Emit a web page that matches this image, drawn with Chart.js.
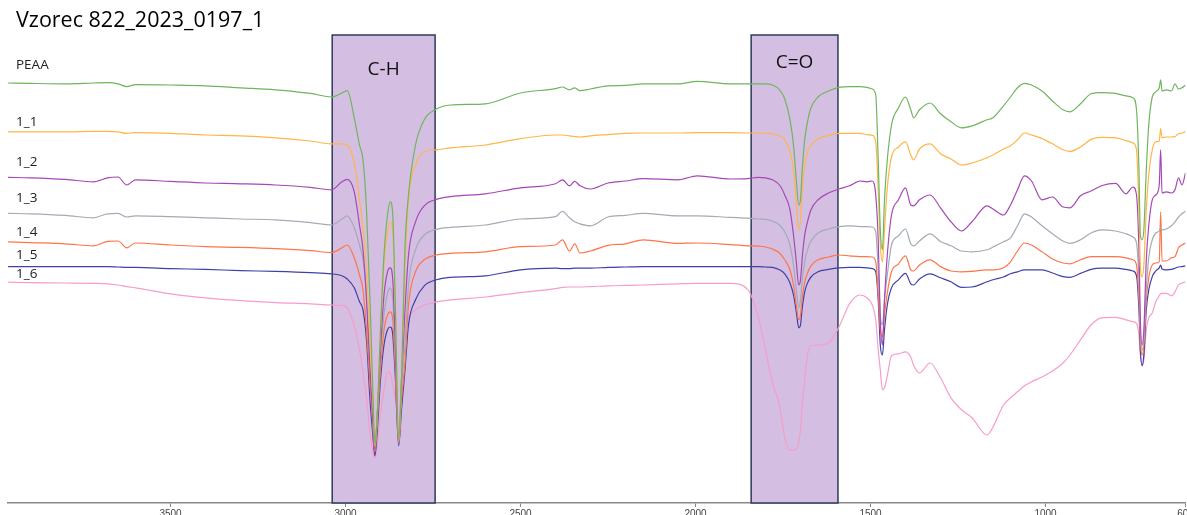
<!DOCTYPE html>
<html>
<head>
<meta charset="utf-8">
<title>Vzorec 822_2023_0197_1</title>
<script src="https://cdn.jsdelivr.net/npm/chart.js@4.4.0/dist/chart.umd.min.js"></script>
<style>
  html, body { margin: 0; padding: 0; background: #fff; }
  #wrap { width: 1187px; height: 515px; }
</style>
</head>
<body>
<div id="wrap"><canvas id="ftir"></canvas></div>
<script>
// wavenumbers (cm-1), shared by all spectra
const wavenumbers = [3964,3900,3800,3720,3680,3650,3625,3600,3500,3400,
  3300,3200,3100,3040,3010,2995,2975,2960,2950,2940,
  2930,2922,2916,2910,2900,2890,2880,2872,2865,2858,
  2848,2840,2830,2820,2800,2775,2740,2700,2600,2500,
  2400,2380,2360,2345,2330,2300,2250,2200,2150,2050,
  1995,1900,1850,1820,1800,1780,1760,1745,1730,1720,
  1712,1705,1700,1695,1688,1680,1670,1650,1620,1590,
  1560,1530,1510,1495,1485,1478,1472,1466,1460,1452,
  1440,1420,1400,1385,1377,1360,1330,1300,1270,1240,
  1210,1167,1150,1120,1100,1080,1060,1040,1010,980,
  950,930,900,870,840,800,770,750,740,733,
  729,724,719,712,705,695,685,675,671,667,
  655,640,630,620,610,600];

// spectra, stacked with offsets (arb. units)
const peaa = [105,104.9,104.8,105,105.1,104.8,104.1,104.6,104.5,104.3,
  103.8,103.3,102.4,101.5,102.5,103.1,96.3,89.5,85.8,73.3,
  50.8,28.3,14.5,20.8,43.3,62,72,75.3,72,50.8,
  15.8,30.8,64,77,89.5,95.8,98.5,99.5,99.8,102.5,
  103.6,104,103.3,103.8,103.1,103.5,104.3,104.4,104.8,104.8,
  105.4,104.8,104.8,104.8,104.8,104.5,103.3,101,95.8,89.5,
  80.8,74.5,75.8,83.3,90.8,95.3,98.8,101.5,103,103.9,
  104.1,104.1,103.9,103.5,102,85.8,68.3,63.3,75.8,85.8,
  94.5,98.8,101.5,98.3,96.3,98.3,100,97.3,95.3,93.8,
  94.3,95.8,96.3,99.3,101.5,103.8,104.9,104.5,103,100.5,
  98.3,97.8,99.8,102.3,102.6,102.4,101.8,101.3,98.3,83.3,
  67,65.8,68.3,83.3,94.5,101.5,102.8,103.8,105.8,103,
  103.3,103,104.8,103.5,103.8,104.5];

const s1_1 = [92.8,92.8,92.8,92.9,92.9,92.8,92.4,92.6,92.4,92,
  91.8,91.3,90.5,89.8,89.8,89.5,85,75.8,68.3,58.3,
  40.8,25.8,14,20.8,43.3,59.5,67.8,70.3,67.8,50.8,
  15.3,30.8,59.5,75.8,84.5,87.8,88.3,88.8,89.5,91.1,
  92,92,91.8,91.6,91.5,91.8,92.1,92.4,92.5,92.5,
  92.6,92.6,92.5,92.5,92.4,92.3,91.8,90.8,87.8,83.3,
  74.5,68.3,70.8,78.3,84.5,87.8,89.5,91,91.9,92.4,
  92.4,92.4,92.1,91.9,90.3,78.3,64.5,60.3,68.3,78.8,
  86.5,89,90.3,87,85.8,88.5,89.8,87.3,86,84.5,
  85,86.3,87,88.5,89.3,90.8,92.5,92,91.1,89.8,
  88.3,87.9,89,90.9,91.4,91.3,90.6,90,88.3,73.3,
  59.5,56.5,59.5,73.3,82,88.3,90.3,90.5,93.6,91.3,
  91.5,91.5,91.6,92.3,92.5,92.9];

const s1_2 = [81.4,81.3,80.9,80.3,81.3,81.5,79.5,80.8,80.4,80,
  79.8,79.5,78.9,78.3,80.3,80.9,77.8,69.5,63.3,50.8,
  33.3,20.8,13.3,20.8,38.3,52,57.8,58.8,55.8,40.8,
  15,30.8,48.3,62,70.3,74.3,75.9,76.6,77.3,78.8,
  79.8,80.8,79.3,80.4,79.3,78.5,80,80.5,81.1,80.8,
  81.8,81,81.1,81.4,81.3,80.8,79.5,77,73.3,67,
  60.3,54.5,55.8,61.3,67,70.3,73.3,75.8,77.5,78.5,
  79.3,80.5,80.3,80.5,77,65.8,45.8,39.5,50.8,62,
  72,75.8,78.8,74.5,74.3,75.8,77,73.8,70.3,68,
  70.3,74.3,73.5,72,74.5,78.3,81.8,80.5,75.8,76.5,
  74,73.8,76.8,78,79.3,79.9,77.3,79,77,63.3,
  45.8,39.5,43.3,60.8,69.3,75.8,77,79.5,88.3,77.5,
  77.8,77.5,78.3,81.3,79.5,82.5];

const s1_3 = [72.4,72.3,71.9,71.3,72.3,72.4,71.5,71.8,71.6,71.3,
  71,70.8,70.1,69.5,71,71.8,68.8,64.5,60.8,52,
  34.5,20.8,13.3,20.8,37,47,52.5,53.8,50.8,38.3,
  15,28.3,39.5,54.5,63.3,67,68.4,68.9,69.5,71,
  71.6,72.9,71.3,70.3,69.8,69.3,71.5,71.9,72.4,71.8,
  71.8,71.4,71.2,71,70.9,70.5,69.5,67.8,64.5,59.5,
  53.3,48.8,50.8,55.8,60.3,63.3,65.5,67.5,68.5,69.1,
  69.3,69.1,69.1,69,67.8,58.3,47,44.5,50.8,57,
  64.5,66.8,68.5,64.8,64.3,65.5,67.3,65.4,64.3,63,
  62.8,63.3,64,65.3,66.3,69.3,72.3,71.5,69.3,67.3,
  65.5,64.9,65.8,67.5,68.3,68,67.3,66.5,65,55.8,
  43.3,38.3,40.8,53.3,61.3,65.8,67.5,68,68.8,68.3,
  68.5,69.3,70.3,71.5,72.3,73];

const s1_4 = [65.3,65.1,64.8,64.3,65.4,65.5,63.8,65,64.5,64.1,
  63.9,63.6,63.1,62.6,63.8,64.5,61.3,57,53.3,43.3,
  29.5,19.5,12.8,19.5,33.3,43.3,47,47.8,45.8,34.5,
  15,25.8,35,49.5,57.8,60.8,62,62.4,62.8,64.1,
  64.5,65.8,63,64.8,62.5,63,64.4,64.8,65.8,64.9,
  65,64.6,64.3,64.2,64,63.5,62.5,60.8,58.3,54.5,
  49.5,45.8,47,51.3,55.3,57.5,59.3,60.8,61.5,62,
  61.8,61.6,61.6,61.5,60.3,52,43.3,41.5,47,52.5,
  57.8,59.8,61.8,58.3,58,59.5,60.8,59.1,58,57.8,
  57.9,58.3,58.3,58.8,60.3,63,65,64.5,62.8,61,
  60,59.8,60.8,61.6,61.6,61.6,61.3,60.8,59.5,50.8,
  40.8,37,39.5,50.8,56.3,59.5,60,60.3,72.8,60.5,
  60.5,61.3,61.6,63.8,64.5,65];

const s1_5 = [59.1,59.1,59.1,59.1,59.1,59,58.9,58.9,58.6,58.4,
  58.1,57.9,57.6,57.3,56.8,56,53.8,50.3,48.3,40.8,
  25.8,17,11.8,17,30.8,39.5,43.3,44,42,32,
  14.3,23.3,33.3,44.5,50.8,54.3,55.8,56.4,56.8,58.3,
  58.7,58.6,58.6,58.7,58.7,58.7,58.9,59,59.1,59.1,
  59.1,59.1,59.1,59.1,59,58.9,58.3,57.3,55,52,
  47.8,43.8,44.5,48.8,52.8,55,56.5,57.8,58.4,58.8,
  58.9,58.9,58.8,58.6,57.8,50.8,39.5,37,43.3,49.5,
  53.8,55.8,57.4,54.8,54.5,56,57.3,56.3,55.3,53.9,
  54,55.3,55.8,56.5,57.3,57.8,58.3,58.3,58.3,57.5,
  56.6,56.4,57.4,58.4,58.7,58.7,58.4,58,56.8,48.3,
  38.3,34.3,37,48.3,53.3,56.6,58,58.8,59.5,58.5,
  58.3,58.4,58.7,59,59.1,59.3];

const s1_6 = [55.2,55.1,55,54.9,54.8,54.5,54.1,53.8,52.3,51.3,
  50.6,50.1,49.8,49.5,49.4,48.8,44.3,38.3,32.8,26.3,
  17.5,12.8,11.3,14,22,28.3,32.8,32.3,29.5,25.8,
  23.8,29.5,43.3,46.3,48.3,49.5,50.3,50.8,51.5,52.6,
  53.6,53.9,54,54,54,54.1,54.3,54.4,54.5,54.8,
  54.9,54.9,53.3,46.3,38.3,30,24.5,16.3,13.3,13.3,
  13.5,15.3,18.3,24.5,30.8,37,39.3,39.5,40,44,
  49.8,52,51.3,49.5,45.8,38.3,33.3,28.3,28.8,31.8,
  36.8,37.3,37.8,36.5,34.5,32.5,35,31.3,26.3,23.3,
  21.3,17,19,24.5,26.3,27.8,29.3,30.3,31.5,33,
  35,37,40.8,44.5,46.3,46.4,45.8,45.3,44.9,42,
  37,34.5,35.8,43.3,46.3,47.5,50.3,51.8,52.3,52.4,
  52.4,51.8,52.8,54.5,55,55.3];

const seriesNames = ['PEAA', '1_1', '1_2', '1_3', '1_4', '1_5', '1_6'];
const seriesColors = ['#6fb55e', '#ffb547', '#a548b5', '#a3abb5', '#ff7448', '#4040a6', '#f79ccb'];
const xTicks = [3500, 3000, 2500, 2000, 1500, 1000, 600];

// highlighted absorption bands
const bandNames = ['C-H', 'C=O'];
const bandFrom = [3038, 1841];
const bandTo = [2744, 1593];

const allSeries = [peaa, s1_1, s1_2, s1_3, s1_4, s1_5, s1_6];

const decorations = {
  id: 'decorations',
  beforeDatasetsDraw(chart) {
    const { ctx, chartArea, scales: { x } } = chart;
    const textTop = [35, 28];
    ctx.save();
    bandNames.forEach((name, i) => {
      const x1 = x.getPixelForValue(bandFrom[i]);
      const x2 = x.getPixelForValue(bandTo[i]);
      ctx.fillStyle = '#d4bfe2';
      ctx.fillRect(x1, chartArea.top, x2 - x1, chartArea.bottom - chartArea.top);
      ctx.strokeStyle = '#2e3a5c';
      ctx.lineWidth = 1.5;
      ctx.strokeRect(x1, chartArea.top, x2 - x1, chartArea.bottom - chartArea.top);
      ctx.fillStyle = '#111';
      ctx.font = '19px "Open Sans"';
      ctx.textAlign = 'center';
      ctx.textBaseline = 'middle';
      ctx.fillText(name, (x1 + x2) / 2, chartArea.top + textTop[i]);
    });
    ctx.restore();
  },
  afterDraw(chart) {
    const { ctx, chartArea, scales: { x } } = chart;
    ctx.save();
    // title
    ctx.fillStyle = '#000';
    ctx.font = '21.5px "Open Sans"';
    ctx.textAlign = 'left';
    ctx.textBaseline = 'middle';
    ctx.fillText('Vzorec 822_2023_0197_1', 16, 21);
    // series names on the left
    const labelY = [65, 122, 162, 198, 232, 255, 274];
    ctx.font = '13.5px "Open Sans"';
    ctx.fillStyle = '#222';
    seriesNames.forEach((n, i) => ctx.fillText(n, 16, labelY[i]));
    // x tick labels
    ctx.font = '10px "Liberation Sans"';
    ctx.fillStyle = '#444';
    ctx.textAlign = 'center';
    ctx.textBaseline = 'top';
    x.ticks.forEach(t => ctx.fillText(String(t.value), x.getPixelForValue(t.value), chartArea.bottom + 6));
    ctx.restore();
  }
};

new Chart(document.getElementById('ftir'), {
  type: 'line',
  data: {
    datasets: allSeries.map((vals, i) => ({
      label: seriesNames[i],
      data: wavenumbers.map((w, j) => ({ x: w, y: vals[j] })),
      borderColor: seriesColors[i],
      borderWidth: 1.2,
      pointRadius: 0,
      cubicInterpolationMode: 'monotone',
      fill: false
    }))
  },
  options: {
    responsive: true,
    maintainAspectRatio: false,
    animation: false,
    layout: { padding: { left: 7.4, right: 1.5, top: 35, bottom: 8 } },
    plugins: { legend: { display: false }, tooltip: { enabled: false } },
    scales: {
      x: {
        type: 'linear',
        reverse: true,
        min: 600,
        max: 3966,
        afterBuildTicks: scale => { scale.ticks = xTicks.map(v => ({ value: v })); },
        ticks: { display: false },
        grid: { drawOnChartArea: false, drawTicks: true, tickLength: 4, color: '#888' },
        border: { color: '#888', width: 1.5 }
      },
      y: {
        display: false,
        min: 0,
        max: 117
      }
    }
  },
  plugins: [decorations]
});
</script>
</body>
</html>
